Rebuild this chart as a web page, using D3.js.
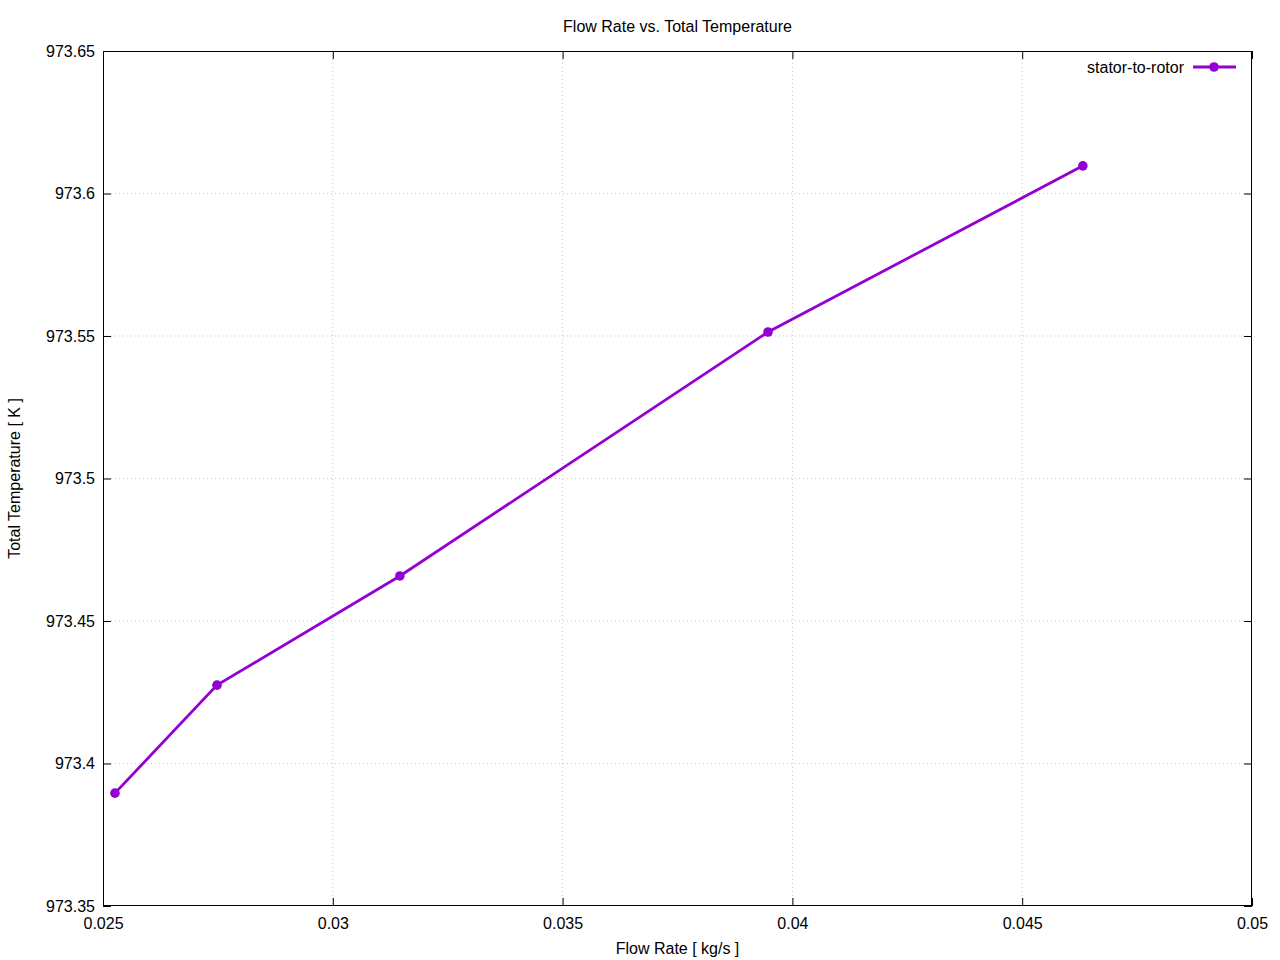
<!DOCTYPE html>
<html>
<head>
<meta charset="utf-8">
<script src="https://cdn.jsdelivr.net/npm/d3@7"></script>
<style>
  body { margin: 0; background: #fff; }
  svg { font-family: "Liberation Sans", Arial, sans-serif; }
</style>
</head>
<body>
<div id="chart"></div>
<script>
// dati
const flowRate = [0.02526, 0.02748, 0.03146, 0.03947, 0.04632];
const totalTemp = [973.3896, 973.4275, 973.4658, 973.5514, 973.6097];
const xTicks = [0.025, 0.03, 0.035, 0.04, 0.045, 0.05];
const yTicks = [973.35, 973.4, 973.45, 973.5, 973.55, 973.6, 973.65];
const seriesName = "stator-to-rotor";

const width = 1280;
const height = 960;
const margin = { top: 51, right: 28, bottom: 54, left: 103 };
const color = "#9400d3";
const fontSize = "16px";

const svg = d3.select("#chart").append("svg")
  .attr("width", width).attr("height", height);

const x = d3.scaleLinear().domain([0.025, 0.05]).range([margin.left, width - margin.right]);
const y = d3.scaleLinear().domain([973.35, 973.65]).range([height - margin.bottom, margin.top]);

// griglia
svg.append("g").selectAll("line").data(xTicks.slice(1, -1)).join("line")
  .attr("x1", d => x(d)).attr("x2", d => x(d))
  .attr("y1", margin.top).attr("y2", height - margin.bottom)
  .attr("stroke", "#c8c8c8").attr("stroke-width", 1).attr("stroke-dasharray", "1,3");
svg.append("g").selectAll("line").data(yTicks.slice(1, -1)).join("line")
  .attr("x1", margin.left).attr("x2", width - margin.right)
  .attr("y1", d => y(d)).attr("y2", d => y(d))
  .attr("stroke", "#c8c8c8").attr("stroke-width", 1).attr("stroke-dasharray", "1,3");

// assi
const xAxis = d3.axisBottom(x).tickValues(xTicks).tickFormat(d3.format("")).tickSizeInner(-8).tickSizeOuter(0).tickPadding(12);
const xAxisTop = d3.axisTop(x).tickValues(xTicks).tickFormat("").tickSizeInner(-8).tickSizeOuter(0);
const yAxis = d3.axisLeft(y).tickValues(yTicks).tickFormat(d => +d.toFixed(2)).tickSizeInner(-8).tickSizeOuter(0).tickPadding(8);
const yAxisRight = d3.axisRight(y).tickValues(yTicks).tickFormat("").tickSizeInner(-8).tickSizeOuter(0);

function styleAxis(g) {
  g.select(".domain").remove();
  g.selectAll("line").attr("stroke", "#000");
  g.selectAll("text").attr("fill", "#000").style("font-size", fontSize).style("font-family", "Liberation Sans, Arial, sans-serif");
}

svg.append("g").attr("transform", `translate(0,${height - margin.bottom})`).call(xAxis).call(styleAxis);
svg.append("g").attr("transform", `translate(0,${margin.top})`).call(xAxisTop).call(styleAxis);
svg.append("g").attr("transform", `translate(${margin.left},0)`).call(yAxis).call(styleAxis);
svg.append("g").attr("transform", `translate(${width - margin.right},0)`).call(yAxisRight).call(styleAxis);

// bordo
svg.append("rect")
  .attr("x", margin.left + 0.5).attr("y", margin.top + 0.5)
  .attr("width", width - margin.left - margin.right - 1)
  .attr("height", height - margin.top - margin.bottom - 1)
  .attr("fill", "none").attr("stroke", "#000").attr("stroke-width", 1);

// titolo e etichette
svg.append("text").attr("x", (margin.left + width - margin.right) / 2).attr("y", 32)
  .attr("text-anchor", "middle").style("font-size", fontSize).text("Flow Rate vs. Total Temperature");
svg.append("text").attr("x", (margin.left + width - margin.right) / 2).attr("y", 954)
  .attr("text-anchor", "middle").style("font-size", fontSize).text("Flow Rate [ kg/s ]");
svg.append("text").attr("transform", `translate(20,${(margin.top + height - margin.bottom) / 2}) rotate(-90)`)
  .attr("text-anchor", "middle").style("font-size", fontSize).text("Total Temperature [ K ]");

// serie
const data = flowRate.map((d, i) => ({ x: d, y: totalTemp[i] }));
const line = d3.line().x(d => x(d.x)).y(d => y(d.y));
svg.append("path").datum(data).attr("d", line)
  .attr("fill", "none").attr("stroke", color).attr("stroke-width", 2.8);
svg.append("g").selectAll("circle").data(data).join("circle")
  .attr("cx", d => x(d.x)).attr("cy", d => y(d.y)).attr("r", 4.8).attr("fill", color);

// legenda
const lg = svg.append("g");
lg.append("text").attr("x", 1184).attr("y", 73).attr("text-anchor", "end")
  .style("font-size", fontSize).text(seriesName);
lg.append("line").attr("x1", 1193).attr("x2", 1236).attr("y1", 67).attr("y2", 67)
  .attr("stroke", color).attr("stroke-width", 2.8);
lg.append("circle").attr("cx", 1214).attr("cy", 67).attr("r", 4.8).attr("fill", color);
</script>
</body>
</html>
